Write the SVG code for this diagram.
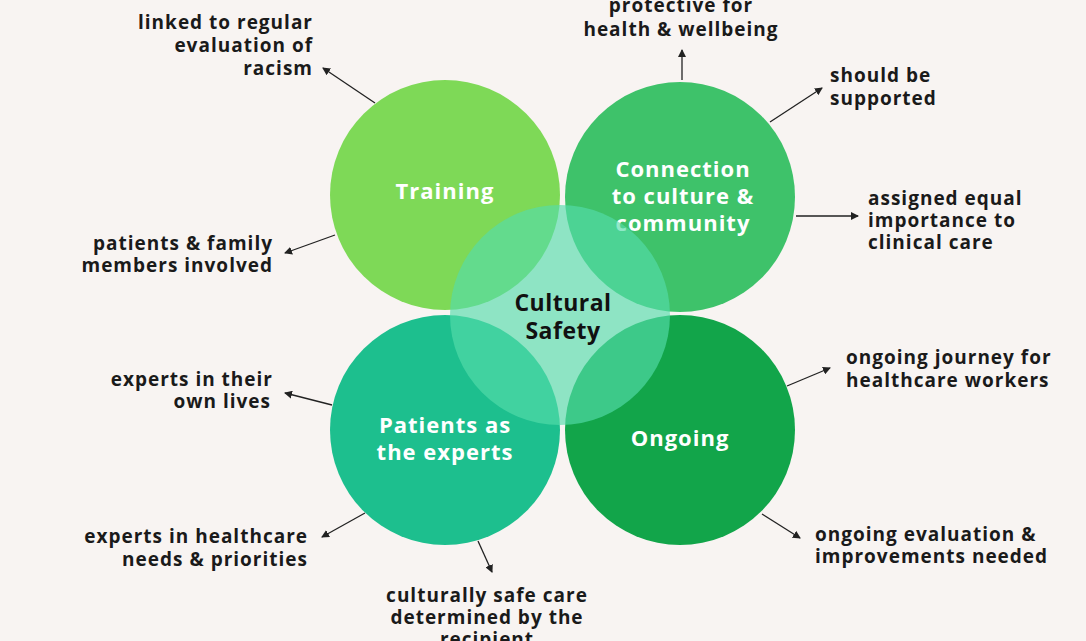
<svg xmlns="http://www.w3.org/2000/svg" width="1086" height="641" viewBox="0 0 1086 641">
<defs>
<marker id="ah" markerWidth="8" markerHeight="8" refX="7" refY="4" orient="auto" markerUnits="userSpaceOnUse"><path d="M0,0 L8,4 L0,8 z" fill="#222"/></marker>
<style>
.lbl{font-family:"Open Sans","Liberation Sans",sans-serif;font-weight:700;font-size:19px;fill:#1a1a1a;letter-spacing:1px}
.ct{font-family:"Open Sans","Liberation Sans",sans-serif;font-weight:700;font-size:22px;fill:#fff;text-anchor:middle;letter-spacing:1px}
.cc{font-family:"Open Sans","Liberation Sans",sans-serif;font-weight:700;font-size:23px;fill:#111;text-anchor:middle;letter-spacing:0.5px}
.con line{stroke:#222;stroke-width:1.3;marker-end:url(#ah)}
</style>
</defs>
<rect width="1086" height="641" fill="#f8f4f2"/>
<g id="training"><circle cx="445" cy="195" r="115" fill="#7ed957"/><text class="ct" x="445" y="199">Training</text></g>
<g id="connection"><circle cx="680" cy="197" r="115" fill="#3ec26a"/><text class="ct" x="683" y="177">Connection</text><text class="ct" x="683" y="204">to culture &amp;</text><text class="ct" x="683" y="231">community</text></g>
<g id="patients"><circle cx="445" cy="430" r="115" fill="#1dbf8e"/><text class="ct" x="445" y="433">Patients as</text><text class="ct" x="445" y="460">the experts</text></g>
<g id="ongoing"><circle cx="680" cy="430" r="115" fill="#12a54a"/><text class="ct" x="680" y="446">Ongoing</text></g>
<g id="cultural"><circle cx="560" cy="315" r="110" fill="#55dcaa" fill-opacity="0.65"/><text class="cc" x="563" y="311">Cultural</text><text class="cc" x="563" y="339">Safety</text></g>
<g class="con" id="connectors">
<line x1="375" y1="103" x2="323" y2="68"/>
<line x1="682" y1="80" x2="682" y2="50"/>
<line x1="770" y1="122" x2="822" y2="88"/>
<line x1="796" y1="216" x2="858" y2="216"/>
<line x1="335" y1="235" x2="285" y2="253"/>
<line x1="332" y1="405" x2="285" y2="393"/>
<line x1="787" y1="386" x2="830" y2="368"/>
<line x1="365" y1="513" x2="322" y2="537"/>
<line x1="478" y1="541" x2="492" y2="572"/>
<line x1="762" y1="514" x2="800" y2="538"/>
</g>
<g id="labels">
<text class="lbl" text-anchor="end" x="313" y="29">linked to regular</text>
<text class="lbl" text-anchor="end" x="313" y="52">evaluation of</text>
<text class="lbl" text-anchor="end" x="313" y="75">racism</text>
<text class="lbl" text-anchor="middle" x="681" y="12">protective for</text>
<text class="lbl" text-anchor="middle" x="681" y="36">health &amp; wellbeing</text>
<text class="lbl" x="830" y="82">should be</text>
<text class="lbl" x="830" y="105">supported</text>
<text class="lbl" x="868" y="205">assigned equal</text>
<text class="lbl" x="868" y="227">importance to</text>
<text class="lbl" x="868" y="249">clinical care</text>
<text class="lbl" text-anchor="end" x="273" y="250">patients &amp; family</text>
<text class="lbl" text-anchor="end" x="273" y="272">members involved</text>
<text class="lbl" text-anchor="end" x="273" y="386">experts in their</text>
<text class="lbl" text-anchor="end" x="271" y="408">own lives</text>
<text class="lbl" x="846" y="364">ongoing journey for</text>
<text class="lbl" x="846" y="387">healthcare workers</text>
<text class="lbl" text-anchor="end" x="308" y="543">experts in healthcare</text>
<text class="lbl" text-anchor="end" x="308" y="566">needs &amp; priorities</text>
<text class="lbl" x="815" y="541">ongoing evaluation &amp;</text>
<text class="lbl" x="815" y="563">improvements needed</text>
<text class="lbl" text-anchor="middle" x="487" y="602">culturally safe care</text>
<text class="lbl" text-anchor="middle" x="487" y="624">determined by the</text>
<text class="lbl" text-anchor="middle" x="487" y="646">recipient</text>
</g>
</svg>
